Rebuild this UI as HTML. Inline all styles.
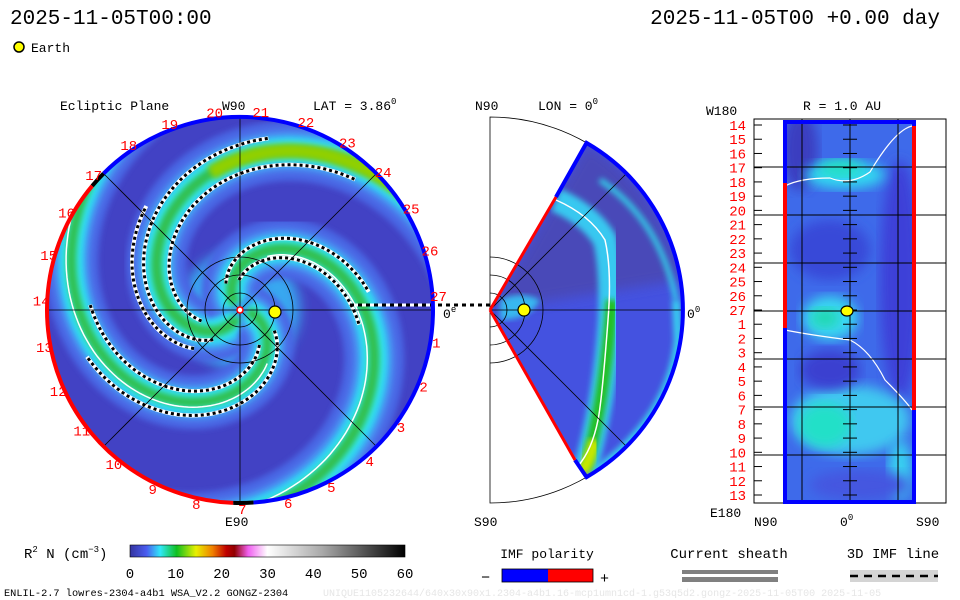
<!DOCTYPE html>
<html><head><meta charset="utf-8">
<style>
html,body{margin:0;padding:0;background:#fff;}
svg{display:block;font-family:"Liberation Mono",monospace;}
</style></head>
<body>
<svg id="c" width="960" height="600" viewBox="0 0 960 600" xmlns="http://www.w3.org/2000/svg">
<defs>
<clipPath id="circClip"><circle cx="240" cy="310" r="193"/></clipPath>
<clipPath id="wedgeClip"><path d="M490,310 L586.5,142.9 A193,193 0 0 1 586.5,477.1 Z"/></clipPath>
<clipPath id="rectClip"><rect x="785" y="122" width="129" height="380"/></clipPath>
<filter id="blur6"><feGaussianBlur stdDeviation="6"/></filter>
<filter id="blur3"><feGaussianBlur stdDeviation="3"/></filter>
<linearGradient id="cbar" x1="0" x2="1" y1="0" y2="0">
<stop offset="0" stop-color="#3434a0"/><stop offset="0.06" stop-color="#4a5cf0"/>
<stop offset="0.11" stop-color="#30e8f8"/><stop offset="0.17" stop-color="#10c020"/>
<stop offset="0.24" stop-color="#e8f000"/><stop offset="0.30" stop-color="#f08000"/>
<stop offset="0.35" stop-color="#c00000"/><stop offset="0.38" stop-color="#900000"/>
<stop offset="0.43" stop-color="#f060f0"/><stop offset="0.50" stop-color="#ffffff"/>
<stop offset="0.70" stop-color="#a8a8a8"/><stop offset="1" stop-color="#000000"/>
</linearGradient>
</defs>

<text x="10" y="24" font-size="21" fill="#000">2025-11-05T00:00</text>
<text x="940" y="24" font-size="21" fill="#000" text-anchor="end">2025-11-05T00 +0.00 day</text>
<circle cx="19" cy="47" r="5" fill="#ffff00" stroke="#000" stroke-width="1.5"/>
<text x="31" y="52" font-size="13">Earth</text>

<!-- Ecliptic panel -->
<g id="ecl">
<circle cx="240" cy="310" r="193" fill="#4242c4"/>
<g id="arms" clip-path="url(#circClip)"></g>
</g>
<text x="60" y="110" font-size="13">Ecliptic Plane</text>
<text x="222" y="110" font-size="13">W90</text>
<text x="313" y="110" font-size="13">LAT = 3.86<tspan dy="-6" font-size="9">0</tspan></text>
<text x="225" y="526" font-size="13">E90</text>
<text x="443" y="318" font-size="13">0<tspan dy="-6" font-size="9">e</tspan></text>

<!-- Meridional panel -->
<g id="mer"></g>
<text x="475" y="110" font-size="13">N90</text>
<text x="538" y="110" font-size="13">LON = 0<tspan dy="-6" font-size="9">0</tspan></text>
<text x="474" y="526" font-size="13">S90</text>
<text x="687" y="318" font-size="13">0<tspan dy="-6" font-size="9">0</tspan></text>

<!-- Right panel -->
<g id="rp"></g>
<text x="706" y="115" font-size="13">W180</text>
<text x="803" y="110" font-size="13">R = 1.0 AU</text>
<text x="710" y="517" font-size="13">E180</text>
<text x="754" y="526" font-size="13">N90</text>
<text x="840" y="526" font-size="13">0<tspan dy="-6" font-size="9">0</tspan></text>
<text x="916" y="526" font-size="13">S90</text>

<!-- Bottom legends -->
<text x="24" y="558" font-size="14">R<tspan dy="-6" font-size="9">2</tspan><tspan dy="6"> N (cm</tspan><tspan dy="-6" font-size="9">−3</tspan><tspan dy="6">)</tspan></text>
<rect x="130" y="545" width="275" height="12" fill="url(#cbar)" stroke="#000" stroke-width="0.6"/>
<g id="cbt"></g>
<text x="547" y="558" font-size="13" text-anchor="middle">IMF polarity</text>
<text x="481" y="582" font-size="15">−</text>
<rect x="502" y="569" width="46" height="13" fill="#0000ff"/>
<rect x="548" y="569" width="45" height="13" fill="#ff0000"/>
<rect x="502" y="569" width="91" height="13" fill="none" stroke="#000" stroke-width="0.8"/>
<text x="600" y="583" font-size="15">+</text>
<text x="729" y="558" font-size="14" text-anchor="middle">Current sheath</text>
<rect x="682" y="570" width="96" height="4" fill="#808080"/>
<rect x="682" y="577" width="96" height="5" fill="#808080"/>
<text x="893" y="558" font-size="14" text-anchor="middle">3D IMF line</text>
<rect x="850" y="570" width="88" height="12" fill="#d4d4d4"/>
<line x1="850" y1="576" x2="938" y2="576" stroke="#000" stroke-width="2.5" stroke-dasharray="8 6"/>
<text x="4" y="596" font-size="10.3">ENLIL-2.7 lowres-2304-a4b1 WSA_V2.2 GONGZ-2304</text>
<text x="323" y="596" font-size="10" fill="#e6e6e6">UNIQUE1105232644/640x30x90x1.2304-a4b1.16-mcp1umn1cd-1.g53q5d2.gongz-2025-11-05T00  2025-11-05</text>

<script>
const NS="http://www.w3.org/2000/svg";
const colorTicks=[0,10,20,30,40,50,60];
const lonLabels=[1,2,3,4,5,6,7,8,9,10,11,12,13,14,15,16,17,18,19,20,21,22,23,24,25,26,27];
const rightLabels=[14,15,16,17,18,19,20,21,22,23,24,25,26,27,1,2,3,4,5,6,7,8,9,10,11,12,13];
const armStarts=[256,137,357];
const svg=document.getElementById('c');
function mk(tag,attrs,parent){const e=document.createElementNS(NS,tag);for(const k in attrs)e.setAttribute(k,attrs[k]);(parent||svg).appendChild(e);return e;}

const cbt=document.getElementById('cbt');
const cx0=130,cw=275,cmax=60;
colorTicks.forEach(v=>{const x=cx0+v/cmax*cw;
 const t=mk('text',{x:x,y:578,'font-size':14,'text-anchor':'middle'},cbt);t.textContent=v;
 
 
});

const CX=240,CY=310,R=193,K=1.1;
const arms=document.getElementById('arms');
function spiral(phi0,r0,r1){let d='';for(let r=r0;r<=r1;r+=2){const a=(phi0-K*r)*Math.PI/180;const x=CX+r*Math.cos(a),y=CY-r*Math.sin(a);d+=(d?'L':'M')+x.toFixed(1)+','+y.toFixed(1);}return d;}
mk('circle',{cx:CX,cy:CY,r:60,fill:'#38a8f0',filter:'url(#blur6)'},arms);
const layers=[[60,'#4a66e4'],[42,'#4c86f0'],[30,'#36c8f4'],[20,'#30e8f0'],[11,'#30c050']];
armStarts.forEach((p,i)=>{
 layers.forEach(([w,c])=>{const e=mk('path',{d:spiral(p,8,260),fill:'none',stroke:c,'stroke-width':w*(i==2?0.9:1),filter:'url(#blur3)'},arms);
  
  });
});
mk('path',{d:spiral(256,140,260),fill:'none',stroke:'#90d000','stroke-width':14,filter:'url(#blur3)'},arms);
[[357+6,60,260],[137-8,60,260]].forEach(([p,a,b])=>{const e=mk('path',{d:spiral(p,a,b),fill:'none',stroke:'#fff','stroke-width':1.5},arms);
 
 });
[[256+16,40,175],[256-16,40,175],[137+14,30,130],[137-12,30,120],[357+16,40,160],[357-14,40,150],[256+30,60,140]].forEach(([p,a,b])=>{
 mk('path',{d:spiral(p,a,b),fill:'none',stroke:'#fff','stroke-width':4},arms);
 const e=mk('path',{d:spiral(p,a,b),fill:'none',stroke:'#000','stroke-width':3,'stroke-dasharray':'3 3'},arms);
 
 });
mk('line',{x1:350,y1:305,x2:490,y2:305,stroke:'#fff','stroke-width':3});
mk('line',{x1:350,y1:305,x2:490,y2:305,stroke:'#000','stroke-width':3,'stroke-dasharray':'4 4'});
const eg=mk('g',{stroke:'#000','stroke-width':0.8,fill:'none'});
[[CX-R,CY,CX+R,CY],[CX,CY-R,CX,CY+R]].forEach(l=>mk('line',{x1:l[0],y1:l[1],x2:l[2],y2:l[3]},eg));
[45,135].forEach(a=>{const c=Math.cos(a*Math.PI/180)*R,s=Math.sin(a*Math.PI/180)*R;mk('line',{x1:CX-c,y1:CY+s,x2:CX+c,y2:CY-s},eg);});
[17,35,53].forEach(r=>mk('circle',{cx:CX,cy:CY,r:r},eg));
function arc(a0,a1,col,w){const p=a=>[CX+R*Math.cos(a*Math.PI/180),CY-R*Math.sin(a*Math.PI/180)];const s=p(a0),e=p(a1);const large=(a1-a0)>180?1:0;
 return mk('path',{d:`M${s[0]},${s[1]} A${R},${R} 0 ${large} 0 ${e[0]},${e[1]}`,fill:'none',stroke:col,'stroke-width':w});}
arc(-86,135,'#0000ff',4);
arc(135,140,'#000',4);
arc(140,268,'#ff0000',4);
arc(268,274,'#000',4);
mk('circle',{cx:CX,cy:CY,r:3,fill:'#fff',stroke:'#f00','stroke-width':1.5});
const e1=mk('circle',{cx:275,cy:312,r:6,fill:'#ffff00',stroke:'#000','stroke-width':1.2});


lonLabels.forEach(k=>{const a=(4-k*360/27)*Math.PI/180;const x=CX+199*Math.cos(a),y=CY-199*Math.sin(a)+5;
 const t=mk('text',{x:x,y:y,'font-size':14,fill:'#ff0000','text-anchor':'middle'});t.textContent=k;
 
 });

const mer=document.getElementById('mer');
const MX=490,MY=310;
mk('path',{d:`M${MX},${MY-R} A${R},${R} 0 0 1 ${MX},${MY+R} Z`,fill:'none',stroke:'#000','stroke-width':0.8},mer);
const wg=mk('g',{'clip-path':'url(#wedgeClip)'},mer);
mk('rect',{x:490,y:117,width:200,height:390,fill:'#4452e0'},wg);
mk('path',{d:`M${MX},${MY} L586.5,142.9 A193,193 0 0 1 681,280 Z`,fill:'#4a4ab8',filter:'url(#blur6)'},wg);
mk('path',{d:'M600,180 Q660,220 676,300',fill:'none',stroke:'#30d0e8','stroke-width':5,filter:'url(#blur3)'},wg);
mk('path',{d:'M676,300 L678,340 Q670,420 590,475',fill:'none',stroke:'#38d0f0','stroke-width':8,filter:'url(#blur3)'},wg);
mk('path',{d:'M500,300 Q520,290 540,300 Q530,320 500,320Z',fill:'#38b8f0',filter:'url(#blur3)'},wg);
mk('path',{d:'M556,200 Q590,215 605,240 Q612,270 610,320 Q605,400 585,470',fill:'none',stroke:'#38c8f0','stroke-width':24,filter:'url(#blur3)'},wg);
mk('path',{d:'M612,300 Q605,400 585,470',fill:'none',stroke:'#20c020','stroke-width':12,filter:'url(#blur3)'},wg);
mk('path',{d:'M595,440 Q590,460 582,472',fill:'none',stroke:'#c8e800','stroke-width':12,filter:'url(#blur3)'},wg);
const ws=mk('path',{d:'M556,200 Q590,215 605,240 Q612,270 608,320 Q602,400 598,420 Q592,450 578,466',fill:'none',stroke:'#fff','stroke-width':1.5},wg);


const mg=mk('g',{stroke:'#000','stroke-width':0.8,fill:'none'},mer);
mk('line',{x1:MX,y1:MY,x2:MX+R,y2:MY},mg);
mk('line',{x1:MX,y1:MY,x2:MX+136,y2:MY-136},mg);
mk('line',{x1:MX,y1:MY,x2:MX+136,y2:MY+136},mg);
[17,35,53].forEach(r=>mk('path',{d:`M${MX},${MY-r} A${r},${r} 0 0 1 ${MX},${MY+r}`},mg));
mk('path',{d:'M490,310 L556,197',stroke:'#ff0000','stroke-width':3,fill:'none'},mer);
mk('path',{d:'M556,197 L586.5,142.9 A193,193 0 0 1 586.5,477.1 L575,460',stroke:'#0000ff','stroke-width':4,fill:'none'},mer);
mk('path',{d:'M490,310 L575,460',stroke:'#ff0000','stroke-width':3,fill:'none'},mer);
const e2=mk('circle',{cx:524,cy:310,r:6,fill:'#ffff00',stroke:'#000','stroke-width':1.2},mer);



const rp=document.getElementById('rp');
mk('rect',{x:754,y:119,width:192,height:384,fill:'none',stroke:'#000','stroke-width':1},rp);
const rg=mk('g',{'clip-path':'url(#rectClip)'},rp);
mk('rect',{x:785,y:122,width:129,height:380,fill:'#3e6aea'},rg);
[[800,150,18,40,'#3a3ec0'],[900,280,20,120,'#3e40d8'],[830,250,40,30,'#3848d8'],[845,175,40,14,'#30d8f0'],[840,168,22,8,'#20e0c0'],
 [830,318,28,22,'#38d8f0'],[825,318,14,10,'#20d8b0'],[850,420,60,35,'#40c8f0'],[825,425,26,22,'#20e0c8'],[900,470,12,30,'#38d0f0'],
 [830,370,30,20,'#3a40d0'],[860,485,50,15,'#4456e0']].forEach(([x,y,a,b,c])=>mk('ellipse',{cx:x,cy:y,rx:a,ry:b,fill:c,filter:'url(#blur6)'},rg));
const rw1=mk('path',{d:'M785,186 Q800,178 830,178 Q850,186 870,172 Q895,130 912,126',fill:'none',stroke:'#fff','stroke-width':1.2},rp);


const rw2=mk('path',{d:'M785,330 Q810,335 850,340 Q870,350 885,380 Q905,400 912,410',fill:'none',stroke:'#fff','stroke-width':1.2},rp);


const gg=mk('g',{stroke:'#000','stroke-width':1},rp);
[167,215,263,311,359,407,455].forEach(y=>mk('line',{x1:754,y1:y,x2:946,y2:y},gg));
[802,850,898].forEach(x=>mk('line',{x1:x,y1:119,x2:x,y2:503},gg));
mk('path',{d:'M785,183 V122 H914 V126',stroke:'#0000ff','stroke-width':4,fill:'none'},rp);
mk('path',{d:'M785,328 V502 H914 V410',stroke:'#0000ff','stroke-width':4,fill:'none'},rp);
mk('line',{x1:785,y1:183,x2:785,y2:328,stroke:'#ff0000','stroke-width':4},rp);
mk('line',{x1:914,y1:126,x2:914,y2:410,stroke:'#ff0000','stroke-width':4},rp);
rightLabels.forEach((k,i)=>{const y=125+i*(370/26);
 mk('line',{x1:754,y1:y,x2:762,y2:y,stroke:'#000'},rp);
 mk('line',{x1:843,y1:y,x2:857,y2:y,stroke:'#000'},rp);
 const t=mk('text',{x:746,y:y+5,'font-size':14,fill:'#ff0000','text-anchor':'end'},rp);t.textContent=k;
 
 });
const e3=mk('ellipse',{cx:847,cy:311,rx:6,ry:5,fill:'#ffff00',stroke:'#000','stroke-width':1.2},rp);


</script>
</svg>
</body></html>
